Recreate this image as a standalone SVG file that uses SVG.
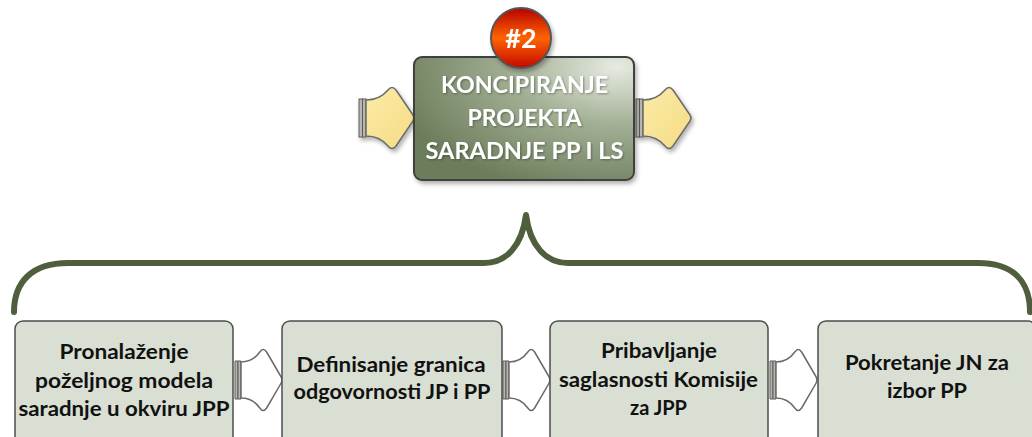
<svg xmlns="http://www.w3.org/2000/svg" width="1032" height="437" viewBox="0 0 1032 437">
<style>
.step{fill:#D9DFD3;stroke:#4E4E4E;stroke-width:1.5}
.stxt{font-family:Lato,"Liberation Sans",sans-serif;font-weight:bold;font-size:21px;fill:#111;text-anchor:middle}
.ttxt{font-family:Lato,"Liberation Sans",sans-serif;font-weight:bold;font-size:22px;fill:#FFFFFF;text-anchor:middle}
.brace{fill:none;stroke:#4F5E3C;stroke-width:6;stroke-linecap:round;stroke-linejoin:round}
.bar{fill:#B8B8B0;stroke:#5A5A5A;stroke-width:1}
.abody{stroke:#6A6A6A;stroke-width:1.5;stroke-linejoin:round}
</style>
<defs>
<radialGradient id="gMain" cx="0.92" cy="0.08" r="1.05">
<stop offset="0" stop-color="#E6EBE1"/>
<stop offset="0.45" stop-color="#A2AF94"/>
<stop offset="1" stop-color="#6C7D5B"/>
</radialGradient>
<linearGradient id="gBadge" x1="0" y1="0" x2="0" y2="1">
<stop offset="0" stop-color="#B50000"/>
<stop offset="0.5" stop-color="#FF6400"/>
<stop offset="1" stop-color="#C20800"/>
</linearGradient>
<linearGradient id="gYel" x1="0" y1="0" x2="1" y2="1">
<stop offset="0" stop-color="#FBEBA8"/>
<stop offset="1" stop-color="#F5DC84"/>
</linearGradient>
<filter id="sh" x="-10%" y="-10%" width="125%" height="130%">
<feDropShadow dx="2" dy="3" stdDeviation="2" flood-color="#000" flood-opacity="0.3"/>
</filter>
<filter id="tsh" x="-5%" y="-20%" width="115%" height="150%">
<feDropShadow dx="1" dy="1" stdDeviation="0.8" flood-color="#000" flood-opacity="0.35"/>
</filter>
<g id="arrowY">
<rect class="bar" x="0" y="-19" width="3.5" height="38"/>
<rect class="bar" x="3.5" y="-19" width="3.5" height="38"/>
<path class="abody" fill="url(#gYel)" d="M7,-18 C18,-18 24,-22 29,-28 Q33,-33 37,-28 L54,-3 Q56,0 54,3 L37,28 Q33,33 29,28 C24,22 18,18 7,18 Z"/>
</g>
<g id="arrowW">
<rect class="bar" x="0" y="-19" width="3.5" height="38" vector-effect="non-scaling-stroke"/>
<rect class="bar" x="3.5" y="-19" width="3.5" height="38" vector-effect="non-scaling-stroke"/>
<path class="abody" fill="#FFFFFF" vector-effect="non-scaling-stroke" d="M7,-18 C18,-18 24,-22 29,-28 Q33,-33 37,-28 L54,-3 Q56,0 54,3 L37,28 Q33,33 29,28 C24,22 18,18 7,18 Z"/>
</g>
</defs>
<rect width="1032" height="437" fill="#FFFFFF"/>

<g id="connectors">
<use href="#arrowY" transform="translate(359,118)" filter="url(#sh)"/>
<use href="#arrowY" transform="translate(636,118)" filter="url(#sh)"/>
<use href="#arrowW" transform="translate(235,380) scale(0.855,1)"/>
<use href="#arrowW" transform="translate(503,380) scale(0.855,1)"/>
<use href="#arrowW" transform="translate(770,380) scale(0.855,1)"/>
<path class="brace" d="M14,312 C14,282 32,263 68,263 L484,263 C506,263 522,246 526,215 C530,246 546,263 568,263 L978,263 C1014,263 1030,282 1030,312"/>
</g>

<g id="main">
<rect x="414" y="57" width="220" height="123" rx="8" fill="url(#gMain)" stroke="#3F3F3F" stroke-width="2" filter="url(#sh)"/>
<g filter="url(#tsh)">
<text class="ttxt" x="524.5" y="93" textLength="167" lengthAdjust="spacingAndGlyphs">KONCIPIRANJE</text>
<text class="ttxt" x="524.5" y="126" textLength="114" lengthAdjust="spacingAndGlyphs">PROJEKTA</text>
<text class="ttxt" x="524.5" y="159" textLength="198" lengthAdjust="spacingAndGlyphs">SARADNJE PP I LS</text>
</g>
</g>

<g id="badge" filter="url(#sh)">
<circle cx="521" cy="38" r="30" fill="url(#gBadge)" stroke="#555" stroke-width="2"/>
<text x="521" y="48" font-family="Lato,'Liberation Sans',sans-serif" font-weight="bold" font-size="27" fill="#FFFFFF" text-anchor="middle">#2</text>
</g>

<g id="step1">
<rect class="step" x="15" y="321" width="218" height="130" rx="8"/>
<text class="stxt" x="124" y="359" textLength="129" lengthAdjust="spacingAndGlyphs">Pronalaženje</text>
<text class="stxt" x="124" y="388" textLength="178" lengthAdjust="spacingAndGlyphs">poželjnog modela</text>
<text class="stxt" x="124" y="416" textLength="211" lengthAdjust="spacingAndGlyphs">saradnje u okviru JPP</text>
</g>

<g id="step2">
<rect class="step" x="282" y="321" width="220" height="130" rx="8"/>
<text class="stxt" x="391" y="372" textLength="189" lengthAdjust="spacingAndGlyphs">Definisanje granica</text>
<text class="stxt" x="392" y="399" textLength="197" lengthAdjust="spacingAndGlyphs">odgovornosti JP i PP</text>
</g>

<g id="step3">
<rect class="step" x="550" y="321" width="218" height="130" rx="8"/>
<text class="stxt" x="659" y="358" textLength="116" lengthAdjust="spacingAndGlyphs">Pribavljanje</text>
<text class="stxt" x="658.5" y="387" textLength="199" lengthAdjust="spacingAndGlyphs">saglasnosti Komisije</text>
<text class="stxt" x="658.5" y="415" textLength="57" lengthAdjust="spacingAndGlyphs">za JPP</text>
</g>

<g id="step4">
<rect class="step" x="818" y="321" width="218" height="130" rx="8"/>
<text class="stxt" x="927" y="370" textLength="164" lengthAdjust="spacingAndGlyphs">Pokretanje JN za</text>
<text class="stxt" x="927" y="398" textLength="80" lengthAdjust="spacingAndGlyphs">izbor PP</text>
</g>
</svg>
